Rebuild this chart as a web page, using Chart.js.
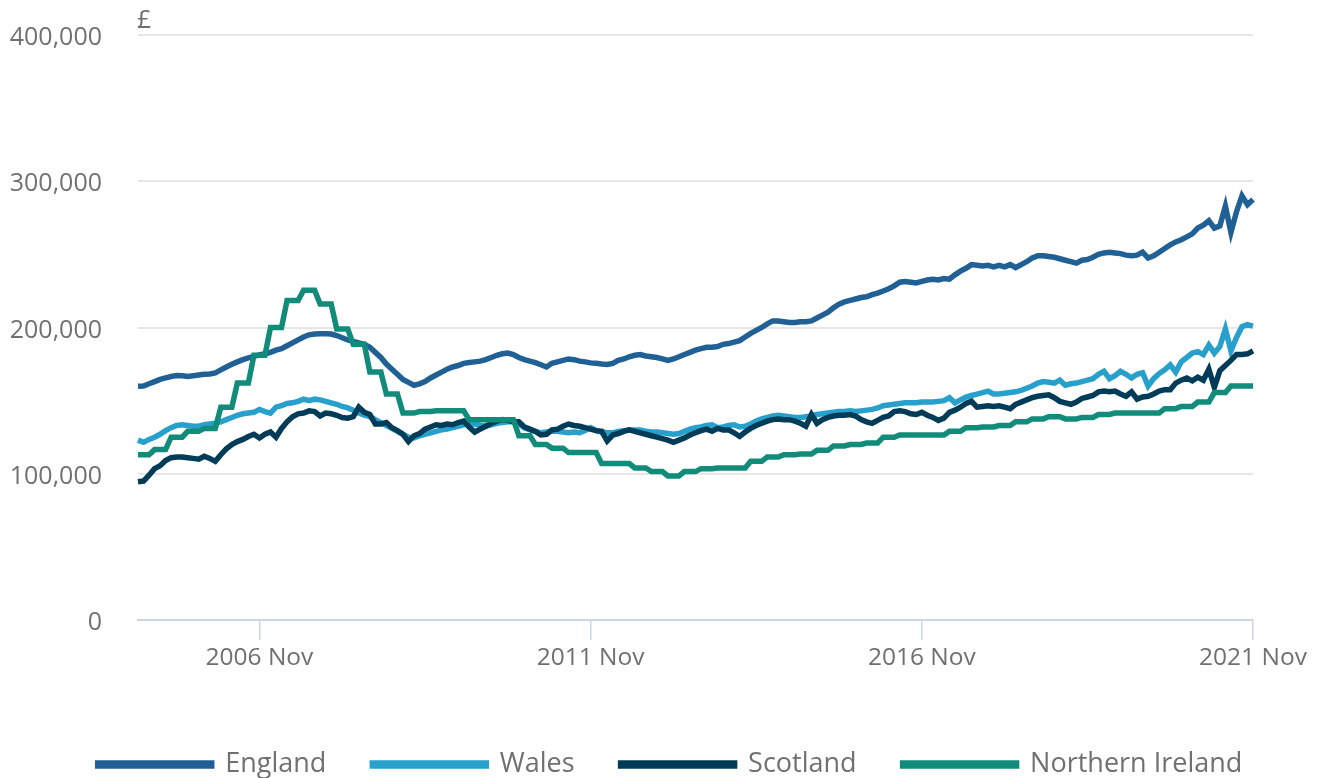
<!DOCTYPE html>
<html>
<head>
<meta charset="utf-8">
<title>Average house price by country</title>
<script src="https://cdn.jsdelivr.net/npm/chart.js@4.4.1/dist/chart.umd.min.js"></script>
<style>
  body { margin: 0; background: #ffffff; }
  #priceChart { display: block; }
</style>
</head>
<body>
<canvas id="priceChart" width="1319" height="778"></canvas>
<script>
// average house price, £ thousand, monthly Jan 2005 - Nov 2021
var months = ['Jan', 'Feb', 'Mar', 'Apr', 'May', 'Jun', 'Jul', 'Aug', 'Sep', 'Oct', 'Nov', 'Dec'];
var firstYear = 2005;
var lastYear = 2021;
var lastMonth = 11;
var shownLabels = ['2006 Nov', '2011 Nov', '2016 Nov', '2021 Nov'];
var yTicks = [0, 100000, 200000, 300000, 400000];

var england = [
    159.8, 160.0, 161.5, 163.0, 164.5, 165.5, 166.5, 167.2, 167.0, 166.5, 167.0, 167.5, // 2005
    168.0, 168.2, 169.0, 171.0, 173.0, 174.8, 176.5, 178.0, 179.2, 180.2, 181.3, 182.0, // 2006
    183.0, 184.5, 185.5, 187.5, 189.5, 191.5, 193.5, 195.0, 195.6, 195.8, 195.8, 195.5, // 2007
    194.5, 193.0, 191.5, 190.5, 189.5, 188.5, 186.5, 183.0, 179.5, 175.0, 171.5, 168.0, // 2008
    164.5, 162.5, 160.5, 161.5, 163.0, 165.5, 167.5, 169.5, 171.5, 173.0, 174.0, 175.5, // 2009
    176.0, 176.5, 177.0, 178.0, 179.5, 181.0, 182.0, 182.5, 181.5, 179.5, 178.0, 177.0, // 2010
    176.0, 174.5, 173.0, 175.5, 176.5, 177.5, 178.5, 178.0, 177.0, 176.5, 175.8, 175.5, // 2011
    175.0, 174.7, 175.5, 177.5, 178.5, 180.0, 181.0, 181.5, 180.5, 180.0, 179.5, 178.5, // 2012
    177.5, 178.5, 180.0, 181.5, 183.0, 184.5, 185.5, 186.5, 186.5, 187.0, 188.5, 189.0, // 2013
    190.0, 191.0, 193.5, 196.0, 198.0, 200.0, 202.5, 204.5, 204.5, 204.0, 203.5, 203.5, // 2014
    204.0, 204.0, 204.5, 206.5, 208.5, 210.5, 213.5, 216.0, 217.5, 218.5, 219.5, 220.5, // 2015
    221.0, 222.5, 223.5, 225.0, 226.5, 228.5, 231.0, 231.5, 231.0, 230.5, 231.5, 232.5, // 2016
    233.0, 232.5, 233.5, 233.0, 236.0, 238.5, 240.5, 243.0, 242.5, 242.0, 242.5, 241.5, // 2017
    242.5, 241.5, 243.0, 241.0, 243.0, 245.0, 247.5, 249.0, 249.0, 248.5, 248.0, 247.0, // 2018
    246.0, 245.0, 244.0, 246.0, 246.5, 248.0, 250.0, 251.0, 251.5, 251.0, 250.5, 249.5, // 2019
    249.0, 249.5, 251.5, 247.5, 249.0, 251.5, 254.0, 256.5, 258.5, 260.0, 262.0, 264.0, // 2020
    268.0, 270.0, 273.0, 268.0, 269.5, 283.0, 265.0, 279.0, 290.0, 284.0, 287.5         // 2021
];

var wales = [
    123.0, 121.5, 123.5, 125.0, 127.0, 129.5, 131.5, 133.0, 133.5, 133.0, 132.5, 132.5,
    133.5, 134.0, 134.5, 135.5, 137.0, 138.5, 140.0, 141.0, 141.5, 142.0, 144.0, 142.5,
    141.5, 145.5, 146.5, 148.0, 148.5, 149.5, 151.0, 150.0, 151.0, 150.5, 149.5, 148.5,
    147.5, 146.0, 145.0, 143.5, 141.5, 140.0, 139.0, 137.0, 135.0, 133.0, 131.0, 129.0,
    127.0, 125.0, 124.5, 126.0, 127.0, 128.0, 129.0, 130.0, 130.5, 131.5, 132.5, 133.5,
    134.5, 134.0, 133.0, 132.5, 133.5, 134.5, 135.0, 135.5, 135.5, 134.0, 131.5, 130.0,
    129.0, 128.0, 128.5, 129.0, 129.0, 128.5, 128.0, 128.5, 128.0, 129.5, 131.5, 129.5,
    128.5, 128.0, 128.0, 129.0, 129.5, 130.0, 130.0, 130.0, 129.0, 128.5, 128.5, 128.0,
    127.5, 127.0, 127.5, 129.0, 130.5, 131.5, 132.0, 133.0, 133.5, 131.5, 132.0, 133.0,
    133.5, 132.0, 132.5, 134.0, 136.0, 137.5, 138.5, 139.5, 140.0, 139.5, 139.0, 138.5,
    138.5, 139.0, 139.5, 140.5, 141.0, 141.5, 142.0, 142.5, 142.5, 143.0, 142.5, 143.0,
    143.5, 144.0, 145.0, 146.5, 147.0, 147.5, 148.0, 148.5, 148.5, 148.5, 149.0, 149.0,
    149.0, 149.5, 150.0, 152.0, 148.5, 150.5, 152.5, 153.5, 154.5, 155.5, 156.5, 154.5,
    154.5, 155.0, 155.5, 156.0, 157.0, 158.5, 160.0, 162.0, 163.0, 162.5, 162.0, 164.0,
    160.5, 161.5, 162.0, 163.0, 164.0, 165.0, 168.0, 170.0, 165.0, 167.0, 170.0, 168.0,
    165.5, 168.0, 169.0, 160.0, 165.0, 168.5, 171.0, 174.5, 169.5, 176.5, 179.5, 182.5,
    183.5, 181.5, 188.0, 182.5, 187.0, 199.0, 184.0, 193.0, 200.5, 202.0, 201.0
];

var scotland = [
    94.5, 95.0, 99.0, 103.5, 105.5, 109.0, 111.0, 111.5, 111.5, 111.0, 110.5, 110.0,
    112.0, 110.5, 108.5, 113.0, 117.0, 120.0, 122.0, 123.5, 125.5, 127.0, 124.5, 127.0,
    128.5, 125.0, 131.0, 135.5, 139.0, 141.0, 141.5, 143.0, 142.5, 139.5, 141.5, 141.0,
    140.0, 138.5, 138.0, 139.0, 145.5, 142.0, 140.5, 134.0, 134.0, 135.0, 131.5, 129.5,
    127.0, 122.0, 126.0, 127.5, 130.5, 132.0, 133.5, 133.0, 134.0, 133.5, 135.0, 136.0,
    132.0, 128.5, 130.5, 132.5, 134.5, 136.0, 137.0, 136.5, 135.5, 135.5, 132.0, 130.5,
    129.0, 126.5, 127.0, 130.0, 130.5, 132.5, 134.0, 133.0, 132.5, 131.5, 130.5, 129.5,
    129.0, 122.5, 126.5, 127.5, 129.0, 130.0, 129.0, 128.0, 127.0, 126.0, 125.0, 124.0,
    123.0, 121.5, 123.0, 124.5, 126.5, 128.0, 129.5, 130.5, 129.0, 131.0, 130.0, 130.0,
    128.0, 125.5, 128.5, 131.0, 133.0, 134.5, 136.0, 137.0, 137.5, 137.0, 137.0, 136.0,
    134.5, 132.5, 140.5, 134.5, 137.0, 138.5, 139.5, 140.0, 140.0, 140.5, 139.5, 137.0,
    135.5, 134.5, 136.5, 138.5, 139.5, 142.5, 143.0, 142.5, 141.0, 140.5, 142.0, 140.0,
    138.5, 136.5, 138.0, 142.0, 143.5, 145.5, 148.0, 149.5, 145.5, 146.0, 146.5, 146.0,
    146.5, 145.5, 144.5, 147.5, 149.0, 150.5, 152.0, 153.0, 153.5, 154.0, 152.0, 149.5,
    148.5, 147.5, 149.0, 151.5, 152.5, 153.5, 156.0, 156.5, 156.0, 156.5, 154.5, 153.0,
    156.0, 151.0, 152.5, 153.0, 154.5, 156.5, 157.5, 157.5, 162.0, 164.0, 165.5, 163.5,
    166.0, 164.0, 171.5, 159.0, 170.5, 174.0, 177.5, 181.5, 181.5, 182.0, 184.0
];

// Northern Ireland is published quarterly, so each quarter's figure repeats for its three months
var northernIreland = [
    113, 113, 113, 116.5, 116.5, 116.5, 125, 125, 125, 129, 129, 129,
    131, 131, 131, 145.5, 145.5, 145.5, 162, 162, 162, 181, 181, 181,
    200, 200, 200, 218.5, 218.5, 218.5, 225.5, 225.5, 225.5, 216, 216, 216,
    199, 199, 199, 188.5, 188.5, 188.5, 169.5, 169.5, 169.5, 154.5, 154.5, 154.5,
    141.5, 141.5, 141.5, 142.5, 142.5, 142.5, 143, 143, 143, 143, 143, 143,
    137, 137, 137, 137, 137, 137, 137, 137, 137, 126, 126, 126,
    120, 120, 120, 117.5, 117.5, 117.5, 114.5, 114.5, 114.5, 114.5, 114.5, 114.5,
    107, 107, 107, 107, 107, 107, 104, 104, 104, 101.5, 101.5, 101.5,
    98.5, 98.5, 98.5, 101.5, 101.5, 101.5, 103.5, 103.5, 103.5, 104, 104, 104,
    104, 104, 104, 108.5, 108.5, 108.5, 111.5, 111.5, 111.5, 113, 113, 113,
    113.5, 113.5, 113.5, 116, 116, 116, 119, 119, 119, 120, 120, 120,
    121, 121, 121, 125, 125, 125, 126.5, 126.5, 126.5, 126.5, 126.5, 126.5,
    126.5, 126.5, 126.5, 129, 129, 129, 131.5, 131.5, 131.5, 132, 132, 132,
    133, 133, 133, 135.5, 135.5, 135.5, 137.5, 137.5, 137.5, 139, 139, 139,
    137.5, 137.5, 137.5, 138.5, 138.5, 138.5, 140.5, 140.5, 140.5, 141.5, 141.5, 141.5,
    141.5, 141.5, 141.5, 141.5, 141.5, 141.5, 144.5, 144.5, 144.5, 146, 146, 146,
    149, 149, 149, 155.5, 155.5, 155.5, 160, 160, 160, 160, 160
];

var seriesNames = ['England', 'Wales', 'Scotland', 'Northern Ireland'];
var seriesColours = ['#206095', '#27a0cc', '#003c57', '#118c7b'];

// month labels like "2006 Nov"
var labels = [];
for (let y = firstYear; y <= lastYear; y++)
{
    for (let m = 0; m < 12; m++)
    {
        if (y === lastYear && m >= lastMonth) break;
        labels.push(y + ' ' + months[m]);
    }
}

var textColour = '#707071';
var fontFamily = '"Open Sans", "Noto Sans", sans-serif';

// small £ unit label above the y axis
var poundLabel = {
    id: 'poundLabel',
    afterDraw: function(chart) {
        var ctx = chart.ctx;
        ctx.save();
        ctx.font = '25px ' + fontFamily;
        ctx.fillStyle = textColour;
        ctx.textAlign = 'left';
        ctx.textBaseline = 'alphabetic';
        ctx.fillText('£', chart.chartArea.left - 1, 28);
        ctx.restore();
    }
};

// centre the legend row under the plot like the original and drop it a little lower
var legendCentre = 670;
var legendDrop = 10;
var legendPlace = {
    id: 'legendPlace',
    afterLayout: function(chart) {
        var legend = chart.legend;
        var half = (legend.right - legend.left) / 2;
        legend.left = legendCentre - half;
        legend.right = legendCentre + half;
        legend.top += legendDrop;
        legend.bottom += legendDrop;
    }
};

function makeDataset(i, values)
{
    return {
        label: seriesNames[i],
        data: values.map(v => v * 1000),
        borderColor: seriesColours[i],
        backgroundColor: seriesColours[i],
        borderWidth: 5.5,
        pointRadius: 0,
        pointHoverRadius: 0,
        tension: 0,
        order: 4 - i
    };
}

var ctx = document.getElementById('priceChart').getContext('2d');
var myChart = new Chart(ctx, {
    type: 'line',
    data: {
        labels: labels,
        datasets: [
            makeDataset(0, england),
            makeDataset(1, wales),
            makeDataset(2, scotland),
            makeDataset(3, northernIreland)
        ]
    },
    plugins: [poundLabel, legendPlace],
    options: {
        responsive: false,
        animation: false,
        layout: {
            padding: { left: 0, right: 66, top: 35, bottom: 0 }
        },
        plugins: {
            tooltip: { enabled: false },
            legend: {
                position: 'bottom',
                labels: {
                    boxWidth: 114,
                    boxHeight: 3,
                    padding: 46,
                    color: textColour,
                    font: { family: fontFamily, size: 27 },
                    sort: function(a, b) { return a.datasetIndex - b.datasetIndex; }
                }
            }
        },
        scales: {
            x: {
                type: 'category',
                offset: false,
                afterFit: function(scale) { scale.height = 75; },
                border: { display: true, color: '#ccd6eb', width: 2 },
                grid: {
                    drawOnChartArea: false,
                    drawTicks: true,
                    tickLength: 20,
                    lineWidth: 1.5,
                    color: function(c) {
                        return shownLabels.indexOf(labels[c.index]) >= 0 ? '#ccd6eb' : 'rgba(0,0,0,0)';
                    }
                },
                ticks: {
                    autoSkip: false,
                    maxRotation: 0,
                    minRotation: 0,
                    padding: 3,
                    color: textColour,
                    font: { family: fontFamily, size: 24.5 },
                    callback: function(val, index) {
                        var l = labels[index];
                        return shownLabels.indexOf(l) >= 0 ? l : '';
                    }
                }
            },
            y: {
                min: 0,
                max: 400000,
                afterFit: function(scale) {
                    scale.width = 138;
                    // the wide label gap should not push the plot down
                    scale.paddingTop = 0;
                    scale.paddingBottom = 0;
                },
                afterBuildTicks: function(scale) {
                    scale.ticks = yTicks.map(v => ({ value: v }));
                },
                border: { display: false },
                grid: {
                    drawTicks: false,
                    lineWidth: 2,
                    color: function(c) {
                        return c.tick && c.tick.value === 0 ? 'rgba(0,0,0,0)' : '#e6e6e6';
                    }
                },
                ticks: {
                    padding: 36,
                    labelOffset: 3,
                    color: textColour,
                    font: { family: fontFamily, size: 25 },
                    callback: function(v) { return v.toLocaleString('en-GB'); }
                }
            }
        }
    }
});
</script>
</body>
</html>
